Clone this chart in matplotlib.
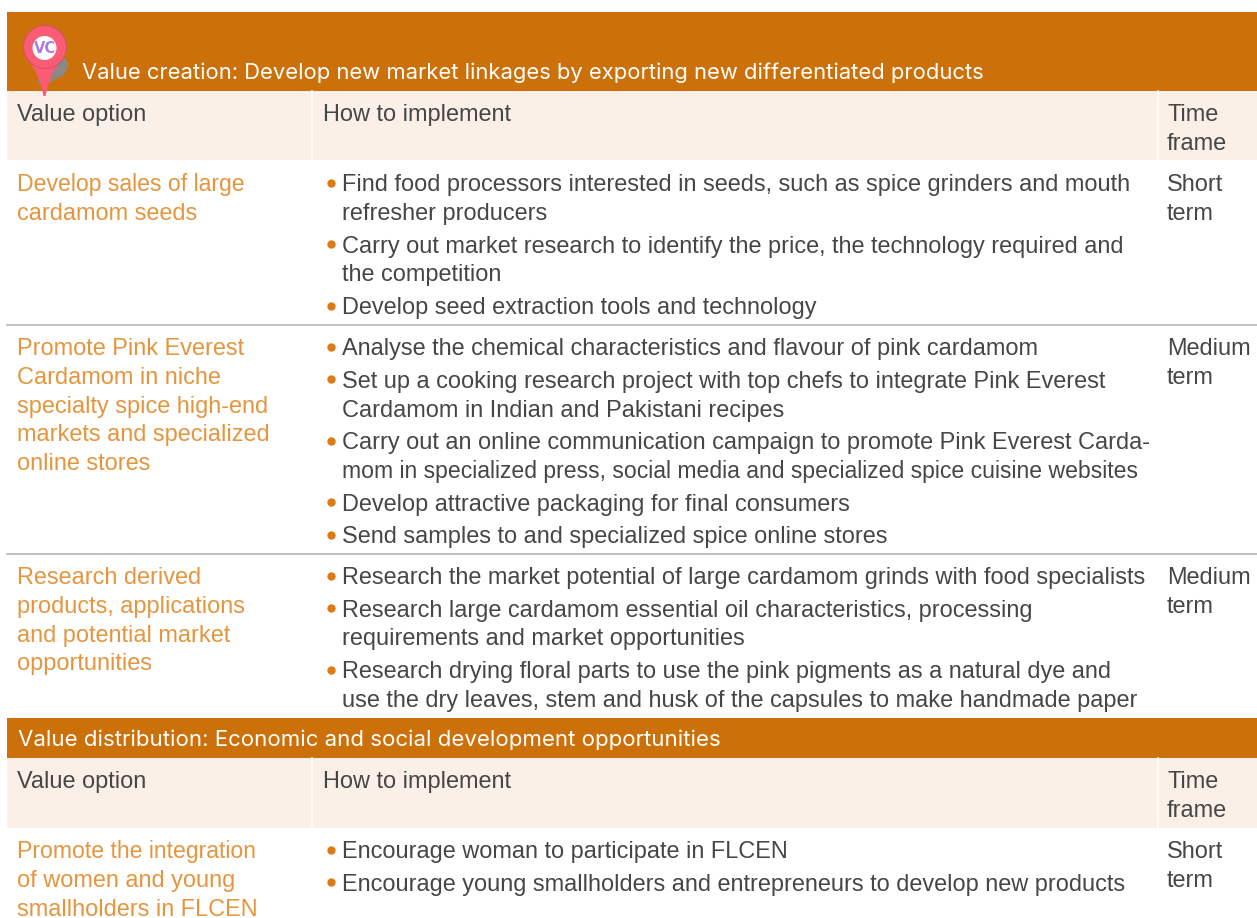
import matplotlib
matplotlib.use("Agg")
import matplotlib.pyplot as plt
from matplotlib.patches import Rectangle, Circle, Polygon, Ellipse

# colours
orange = "#cc710a"
cream = "#faf0e7"
label_col = "#e5953e"
dark = "#464646"

header1 = "Value creation: Develop new market linkages by exporting new differentiated products"
header2 = "Value distribution: Economic and social development opportunities"
col_titles = ["Value option", "How to implement", "Time\nframe"]

options = [
    "Develop sales of large\ncardamom seeds",
    "Promote Pink Everest\nCardamom in niche\nspecialty spice high-end\nmarkets and specialized\nonline stores",
    "Research derived\nproducts, applications\nand potential market\nopportunities",
    "Promote the integration\nof women and young\nsmallholders in FLCEN",
]
times = ["Short\nterm", "Medium\nterm", "Medium\nterm", "Short\nterm"]
bullets = [
    ["Find food processors interested in seeds, such as spice grinders and mouth\nrefresher producers",
     "Carry out market research to identify the price, the technology required and\nthe competition",
     "Develop seed extraction tools and technology"],
    ["Analyse the chemical characteristics and flavour of pink cardamom",
     "Set up a cooking research project with top chefs to integrate Pink Everest\nCardamom in Indian and Pakistani recipes",
     "Carry out an online communication campaign to promote Pink Everest Carda-\nmom in specialized press, social media and specialized spice cuisine websites",
     "Develop attractive packaging for final consumers",
     "Send samples to and specialized spice online stores"],
    ["Research the market potential of large cardamom grinds with food specialists",
     "Research large cardamom essential oil characteristics, processing\nrequirements and market opportunities",
     "Research drying floral parts to use the pink pigments as a natural dye and\nuse the dry leaves, stem and husk of the capsules to make handmade paper"],
    ["Encourage woman to participate in FLCEN",
     "Encourage young smallholders and entrepreneurs to develop new products"],
]
row_base = [191, 355, 584, 858]
rules = [325, 554]

LINE = 28.8
GAP = 3.9
FS = 16.95
plt.rcParams["font.family"] = ["Liberation Sans", "DejaVu Sans"]

# lines the reference sets tighter than the rest
tight = {"mom in specialized press, social media and specialized spice cuisine websites": 16.6,
         "Develop sales of large": 16.6,
         "Promote the integration": 16.6}

fig = plt.figure(figsize=(12.57, 9.18), dpi=100)
ax = fig.add_axes([0, 0, 1, 1])
ax.set_xlim(0, 1257)
ax.set_ylim(918, 0)
ax.axis("off")


def lines(x, y, s, color=dark):
    for i, part in enumerate(s.split("\n")):
        ax.text(x, y + i * LINE, part, fontsize=tight.get(part, FS), color=color, va="baseline", ha="left")


def head_band(top, bot, s, x, base, size):
    ax.add_patch(Rectangle((7, top), 1250, bot - top, fc=orange, ec="none"))
    ax.text(x, base, s, fontsize=size, color="white", va="baseline", ha="left", family="Inter")


def col_band(top, bot):
    ax.add_patch(Rectangle((7, top), 1250, bot - top, fc=cream, ec="none"))
    ax.plot([311.5, 311.5], [top, bot], color="white", lw=1.2)
    ax.plot([1157.5, 1157.5], [top, bot], color="white", lw=1.2)
    lines(17, top + 30, col_titles[0])
    lines(323, top + 30, col_titles[1])
    lines(1167, top + 30, col_titles[2])


head_band(12, 91, header1, 82, 79, 15.8)
col_band(91, 160)
head_band(718, 758, header2, 18, 746, 16.0)
col_band(758, 828)

for y in rules:
    ax.plot([7, 1257], [y, y], color="#b5b5b5", lw=1.2)

for opt, tm, items, y0 in zip(options, times, bullets, row_base):
    lines(17, y0, opt, label_col)
    lines(1167, y0, tm)
    y = y0
    for item in items:
        ax.plot([330.5], [y - 8.5], "o", ms=6, color="#dd7a12", mec="none")
        lines(342, y, item)
        y += LINE * (item.count("\n") + 1) + GAP

# map pin, shadow first
ax.add_patch(Polygon([[36, 82], [58, 58], [68, 64], [62, 76], [44, 86]], fc="#8a8a8a", ec="none", alpha=0.8))
ax.add_patch(Ellipse((60, 67), 15, 20, angle=25, fc="#8a8a8a", ec="none", alpha=0.9))
ax.add_patch(Polygon([[27, 58], [36, 72], [41, 85], [43.5, 96], [45.5, 96], [48, 85], [53, 72], [63, 58]],
                     fc="#fb5b74", ec="none"))
ax.add_patch(Circle((45, 47), 21.5, fc="#fb5b74", ec="#c9525f", lw=0.6))
ax.add_patch(Circle((44.5, 48), 12, fc="white", ec="none"))
ax.text(44.5, 48.5, "VC", fontsize=10.5, color="#b07ae0", ha="center", va="center",
        family="DejaVu Sans", fontweight="bold")

fig.savefig("out.png", dpi=100)
